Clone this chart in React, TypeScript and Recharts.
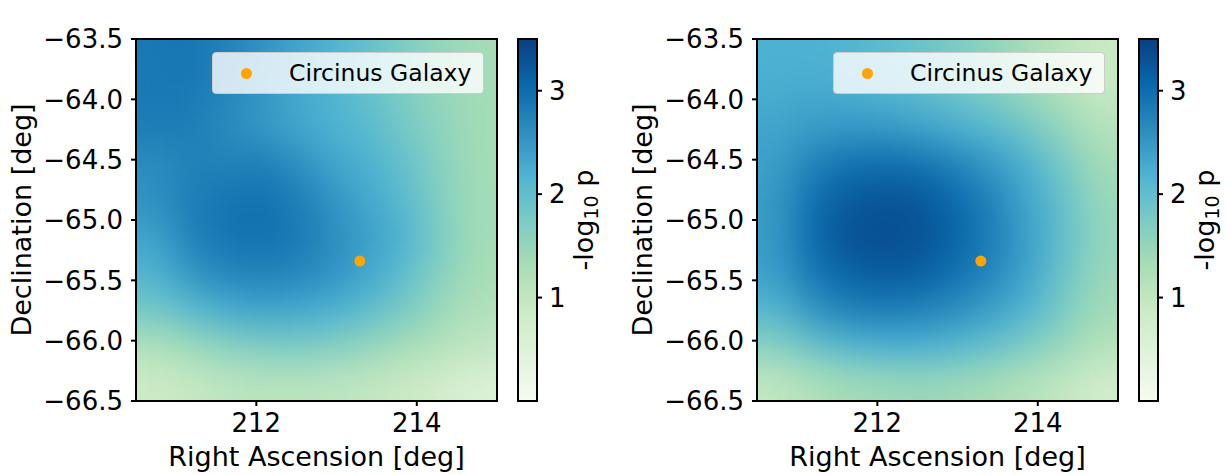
import { ScatterChart, Scatter, XAxis, YAxis, Label, BarChart, Bar } from "recharts";

// grid cell centres (deg)
const RA_CELLS = [210.725, 211.175, 211.625, 212.075, 212.525, 212.975, 213.425, 213.875, 214.325, 214.775];
const DEC_CELLS = [-63.65, -63.95, -64.25, -64.55, -64.85, -65.15, -65.45, -65.75, -66.05, -66.35];

// -log10 p, rows top (dec -63.65) to bottom, columns west to east
const DISK_CORONA = [
  [2.85, 2.9, 2.75, 2.55, 2.35, 2.15, 1.95, 1.7, 1.5, 1.35],
  [2.85, 2.85, 2.7, 2.5, 2.3, 2.15, 1.95, 1.7, 1.5, 1.35],
  [2.8, 2.8, 2.65, 2.5, 2.35, 2.2, 2.05, 1.8, 1.55, 1.35],
  [2.6, 2.75, 2.75, 2.8, 2.6, 2.35, 2.2, 1.95, 1.6, 1.35],
  [2.55, 2.8, 2.9, 2.95, 2.8, 2.55, 2.3, 2.05, 1.65, 1.35],
  [2.35, 2.75, 2.9, 2.95, 2.85, 2.6, 2.4, 2.15, 1.7, 1.35],
  [2.15, 2.5, 2.7, 2.75, 2.7, 2.55, 2.3, 2.0, 1.6, 1.3],
  [1.8, 2.05, 2.25, 2.35, 2.3, 2.2, 2.0, 1.75, 1.4, 1.2],
  [1.2, 1.4, 1.6, 1.7, 1.75, 1.65, 1.5, 1.3, 1.15, 1.0],
  [0.85, 0.95, 1.05, 1.1, 1.1, 1.05, 1.0, 0.9, 0.75, 0.55],
];

const POWER_LAW = [
  [2.2, 2.2, 2.15, 2.05, 1.9, 1.75, 1.55, 1.3, 1.1, 0.9],
  [2.25, 2.3, 2.25, 2.15, 2.05, 1.9, 1.7, 1.45, 1.2, 0.95],
  [2.35, 2.45, 2.5, 2.5, 2.4, 2.25, 2.1, 1.85, 1.5, 1.15],
  [2.4, 2.75, 2.95, 3.0, 2.95, 2.75, 2.5, 2.2, 1.8, 1.35],
  [2.45, 2.95, 3.2, 3.3, 3.25, 3.05, 2.75, 2.35, 1.95, 1.45],
  [2.45, 3.0, 3.3, 3.35, 3.3, 3.1, 2.8, 2.4, 2.0, 1.5],
  [2.4, 2.85, 3.1, 3.2, 3.15, 2.95, 2.7, 2.35, 1.9, 1.45],
  [2.1, 2.5, 2.75, 2.8, 2.75, 2.6, 2.4, 2.15, 1.75, 1.35],
  [1.6, 1.9, 2.1, 2.2, 2.2, 2.1, 1.95, 1.7, 1.45, 1.15],
  [1.0, 1.2, 1.35, 1.4, 1.45, 1.4, 1.3, 1.15, 1.0, 0.75],
];

const RA_DOMAIN = [210.5, 215];
const DEC_DOMAIN = [-66.5, -63.5];
const RA_TICKS = [212, 214];
const DEC_TICKS = [-63.5, -64, -64.5, -65, -65.5, -66, -66.5];
const CBAR_TICKS = [1, 2, 3];
const CBAR_RANGE = [{ name: "cbar", v: 3.5 }];
const CIRCINUS = [{ ra: 213.29, dec: -65.34 }];
const V_MAX = 3.5;

const GNBU = ["#f7fcf0", "#e0f3db", "#ccebc5", "#a8ddb5", "#7bccc4", "#4eb3d3", "#2b8cbe", "#0868ac", "#084081"];

// layout
const CHART_W = 614;
const CHART_H = 475;
const MARGIN = { top: 39, right: 117, bottom: 9, left: 0 };
const Y_AXIS_W = 136;
const X_AXIS_H = 65;
const PLOT_W = CHART_W - MARGIN.right - MARGIN.left - Y_AXIS_W;
const PLOT_H = CHART_H - MARGIN.top - MARGIN.bottom - X_AXIS_H;
const PANEL_SHIFT = 621;
const FONT = "'DejaVu Sans', sans-serif";

function hexToRgb(h: string) {
  return [1, 3, 5].map((i) => parseInt(h.slice(i, i + 2), 16));
}

function gnbu(v: number) {
  const t = Math.max(0, Math.min(1, v / V_MAX)) * (GNBU.length - 1);
  const i = Math.min(GNBU.length - 2, Math.floor(t));
  const f = t - i;
  const a = hexToRgb(GNBU[i]);
  const b = hexToRgb(GNBU[i + 1]);
  const c = a.map((x, k) => Math.round(x + (b[k] - x) * f));
  return `rgb(${c[0]},${c[1]},${c[2]})`;
}

const minus = (v: number) => (v < 0 ? "\u2212" : "") + Math.abs(v).toFixed(1);

const tickStyle = { fill: "#000", fontSize: 26 };
const lineStyle = { stroke: "#000", strokeWidth: 2 };

function HeatCell(props: any) {
  const { cx, cy, payload } = props;
  const w = PLOT_W / RA_CELLS.length + 0.6;
  const h = PLOT_H / DEC_CELLS.length + 0.6;
  return <rect x={cx - w / 2} y={cy - h / 2} width={w} height={h} fill={gnbu(payload.v)} />;
}

function Dot(props: any) {
  return <circle cx={props.cx} cy={props.cy} r={5.5} fill="#ffa500" />;
}

function Panel({ title, grid, left }: { title: string; grid: number[][]; left: number }) {
  const cells = grid.flatMap((row, i) => row.map((v, j) => ({ ra: RA_CELLS[j], dec: DEC_CELLS[i], v })));
  return (
    <div style={{ position: "absolute", left, top: 0, width: CHART_W, height: CHART_H }}>
      <ScatterChart width={CHART_W} height={CHART_H} margin={MARGIN}>
        <Scatter
          className="heat-cells"
          data={cells}
          dataKey="dec"
          shape={HeatCell}
          isAnimationActive={false}
        />
        <XAxis
          type="number"
          dataKey="ra"
          domain={RA_DOMAIN}
          ticks={RA_TICKS}
          interval={0}
          height={X_AXIS_H}
          tick={tickStyle}
          tickSize={5}
          tickMargin={8}
          tickLine={lineStyle}
          axisLine={lineStyle}
          allowDataOverflow
        >
          <Label
            content={(p: any) => {
              const vb = p.viewBox;
              return (
                <text x={vb.x + vb.width / 2} y={vb.y + vb.height} textAnchor="middle" fontSize={27} fill="#000">
                  Right Ascension [deg]
                </text>
              );
            }}
          />
        </XAxis>
        <XAxis
          xAxisId="top"
          orientation="top"
          type="number"
          domain={RA_DOMAIN}
          height={0}
          tick={false}
          tickLine={false}
          axisLine={lineStyle}
          allowDataOverflow
        >
          <Label
            content={(p: any) => {
              const vb = p.viewBox;
              return (
                <text x={vb.x + vb.width / 2} y={vb.y - 11} textAnchor="middle" fontSize={27} fill="#000">
                  {title}
                </text>
              );
            }}
          />
        </XAxis>
        <YAxis
          type="number"
          dataKey="dec"
          domain={DEC_DOMAIN}
          ticks={DEC_TICKS}
          interval={0}
          width={Y_AXIS_W}
          tick={tickStyle}
          tickFormatter={minus}
          tickSize={5}
          tickMargin={8}
          tickLine={lineStyle}
          axisLine={lineStyle}
          allowDataOverflow
        >
          <Label
            content={(p: any) => {
              const vb = p.viewBox;
              const x = vb.x + 31;
              const y = vb.y + vb.height / 2;
              return (
                <text x={x} y={y} transform={`rotate(-90 ${x} ${y})`} textAnchor="middle" fontSize={27} fill="#000">
                  Declination [deg]
                </text>
              );
            }}
          />
        </YAxis>
        <YAxis
          yAxisId="right"
          orientation="right"
          type="number"
          domain={DEC_DOMAIN}
          ticks={DEC_TICKS}
          interval={0}
          width={0}
          tickFormatter={() => ""}
          tickSize={5}
          tickLine={lineStyle}
          axisLine={lineStyle}
          allowDataOverflow
        />
        <Scatter data={CIRCINUS} dataKey="dec" shape={Dot} isAnimationActive={false} />
      </ScatterChart>

      {/* plot frame (spines) kept above the blurred cells */}
      <svg
        width={CHART_W}
        height={CHART_H}
        style={{ position: "absolute", left: 0, top: 0, pointerEvents: "none", zIndex: 5 }}
      >
        <rect
          x={MARGIN.left + Y_AXIS_W}
          y={MARGIN.top}
          width={PLOT_W}
          height={PLOT_H}
          fill="none"
          stroke="#000"
          strokeWidth={2}
        />
      </svg>

      <div
        style={{
          position: "absolute",
          left: 212,
          top: 52,
          width: 272,
          height: 42,
          boxSizing: "border-box",
          background: "rgba(255,255,255,0.8)",
          border: "1px solid #cccccc",
          borderRadius: 4,
          zIndex: 6,
        }}
      >
        <span
          style={{
            position: "absolute",
            left: 27.5,
            top: 15,
            width: 11,
            height: 11,
            borderRadius: "50%",
            background: "#ffa500",
          }}
        />
        <span style={{ position: "absolute", left: 76, top: 9, fontSize: 23.5, lineHeight: 1, whiteSpace: "nowrap" }}>
          Circinus Galaxy
        </span>
      </div>

      <div style={{ position: "absolute", left: 516, top: 0 }}>
        <BarChart
          width={112}
          height={CHART_H}
          data={CBAR_RANGE}
          margin={{ top: 39, right: 0, bottom: 74, left: 2 }}
          barCategoryGap={0}
        >
          <XAxis dataKey="name" hide />
          <YAxis
            orientation="right"
            type="number"
            domain={[0, V_MAX]}
            ticks={CBAR_TICKS}
            interval={0}
            width={91}
            tick={tickStyle}
            tickSize={5}
            tickMargin={7}
            tickLine={lineStyle}
            axisLine={false}
          >
            <Label
              content={(p: any) => {
                const vb = p.viewBox;
                const x = vb.x + 56;
                const y = vb.y + vb.height / 2;
                return (
                  <text x={x} y={y} transform={`rotate(-90 ${x} ${y})`} textAnchor="middle" fontSize={27} fill="#000">
                    -log
                    <tspan fontSize={19} dy={5}>10</tspan>
                    <tspan dy={-5}> p</tspan>
                  </text>
                );
              }}
            />
          </YAxis>
          <Bar dataKey="v" fill="url(#gnbu)" stroke="#000" strokeWidth={2} isAnimationActive={false} />
        </BarChart>
      </div>
    </div>
  );
}

export default function App() {
  return (
    <div style={{ position: "absolute", left: 0, top: 0, width: 1228, height: 475, background: "#fff", fontFamily: FONT }}>
      <style>{`.heat-cells { filter: url(#heatBlur); }`}</style>
      <svg width={0} height={0} style={{ position: "absolute" }}>
        <defs>
          <linearGradient id="gnbu" x1="0" y1="1" x2="0" y2="0">
            {GNBU.map((c, i) => (
              <stop key={c} offset={i / (GNBU.length - 1)} stopColor={c} />
            ))}
          </linearGradient>
          <filter id="heatBlur" x="0" y="0" width="1" height="1" colorInterpolationFilters="sRGB">
            <feGaussianBlur stdDeviation={17} />
            <feComponentTransfer>
              <feFuncA type="linear" slope={0} intercept={1} />
            </feComponentTransfer>
          </filter>
        </defs>
      </svg>
      <Panel title="Disk-corona model" grid={DISK_CORONA} left={0} />
      <Panel title="Power law" grid={POWER_LAW} left={PANEL_SHIFT} />
    </div>
  );
}
